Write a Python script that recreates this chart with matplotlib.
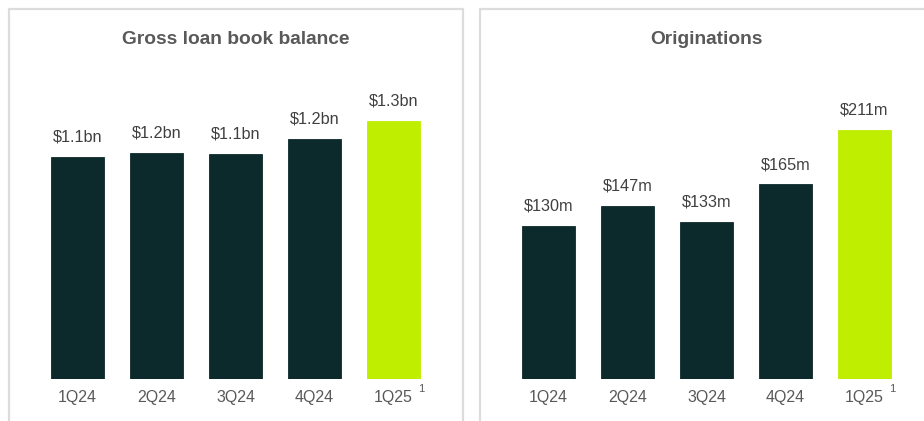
import matplotlib.pyplot as plt
from matplotlib.lines import Line2D

plt.rcParams['font.family'] = ['Liberation Sans', 'DejaVu Sans']

quarters = ["1Q24", "2Q24", "3Q24", "4Q24", "1Q25"]
loan_book = [1.12, 1.14, 1.135, 1.21, 1.30]
loan_labels = ["$1.1bn", "$1.2bn", "$1.1bn", "$1.2bn", "$1.3bn"]
originations = [130, 147, 133, 165, 211]
orig_labels = ["$130m", "$147m", "$133m", "$165m", "$211m"]

DARK = "#0c2a2b"
LIME = "#bfee00"
TEXT = "#404040"
GREY = "#595959"
W, H = 924, 421

fig = plt.figure(figsize=(W / 100, H / 100), dpi=100)

# panel frames (open at the bottom)
for xs, ys in [([9, 9, 463, 463], [H, 9, 9, H]), ([480, 480, W], [H, 9, 9])]:
    fig.add_artist(Line2D([x / W for x in xs], [1 - y / H for y in ys],
                          color="#dcdcdc", lw=1.6, transform=fig.transFigure))


def panel(left, values, labels, ymax, title, title_x):
    ax = fig.add_axes([left / W, 1 - 379 / H, 395 / W, 299 / H])
    colors = [DARK] * (len(values) - 1) + [LIME]
    ax.bar(range(len(values)), values, width=0.67, color=colors,
           edgecolor=colors, linewidth=0.6)
    for i, (v, lab) in enumerate(zip(values, labels)):
        ax.annotate(lab, (i, v), xytext=(0, 11), textcoords="offset points",
                    ha="center", va="baseline", fontsize=11.7, color=TEXT)
    ax.set_xlim(-0.5, len(values) - 0.5)
    ax.set_ylim(0, ymax)
    ax.set_xticks(range(len(values)))
    ax.set_xticklabels(quarters, fontsize=11.5, color=GREY)
    ax.tick_params(axis="x", length=0, pad=8)
    ax.set_yticks([])
    for s in ax.spines.values():
        s.set_visible(False)
    ax.annotate("1", (len(values) - 1, 0), xycoords=ax.get_xaxis_transform(),
                xytext=(20, -7.5), textcoords="offset points",
                ha="center", va="center", fontsize=8, color=GREY)
    fig.text(title_x / W, 1 - 39 / H, title, ha="center", va="center",
             fontsize=13.8, fontweight="bold", color=GREY)
    return ax


panel(38, loan_book, loan_labels, 299 / 198.5, "Gross loan book balance", 236)
panel(509, originations, orig_labels, 299 / 1.18, "Originations", 706)

fig.savefig("out.png", dpi=100)
